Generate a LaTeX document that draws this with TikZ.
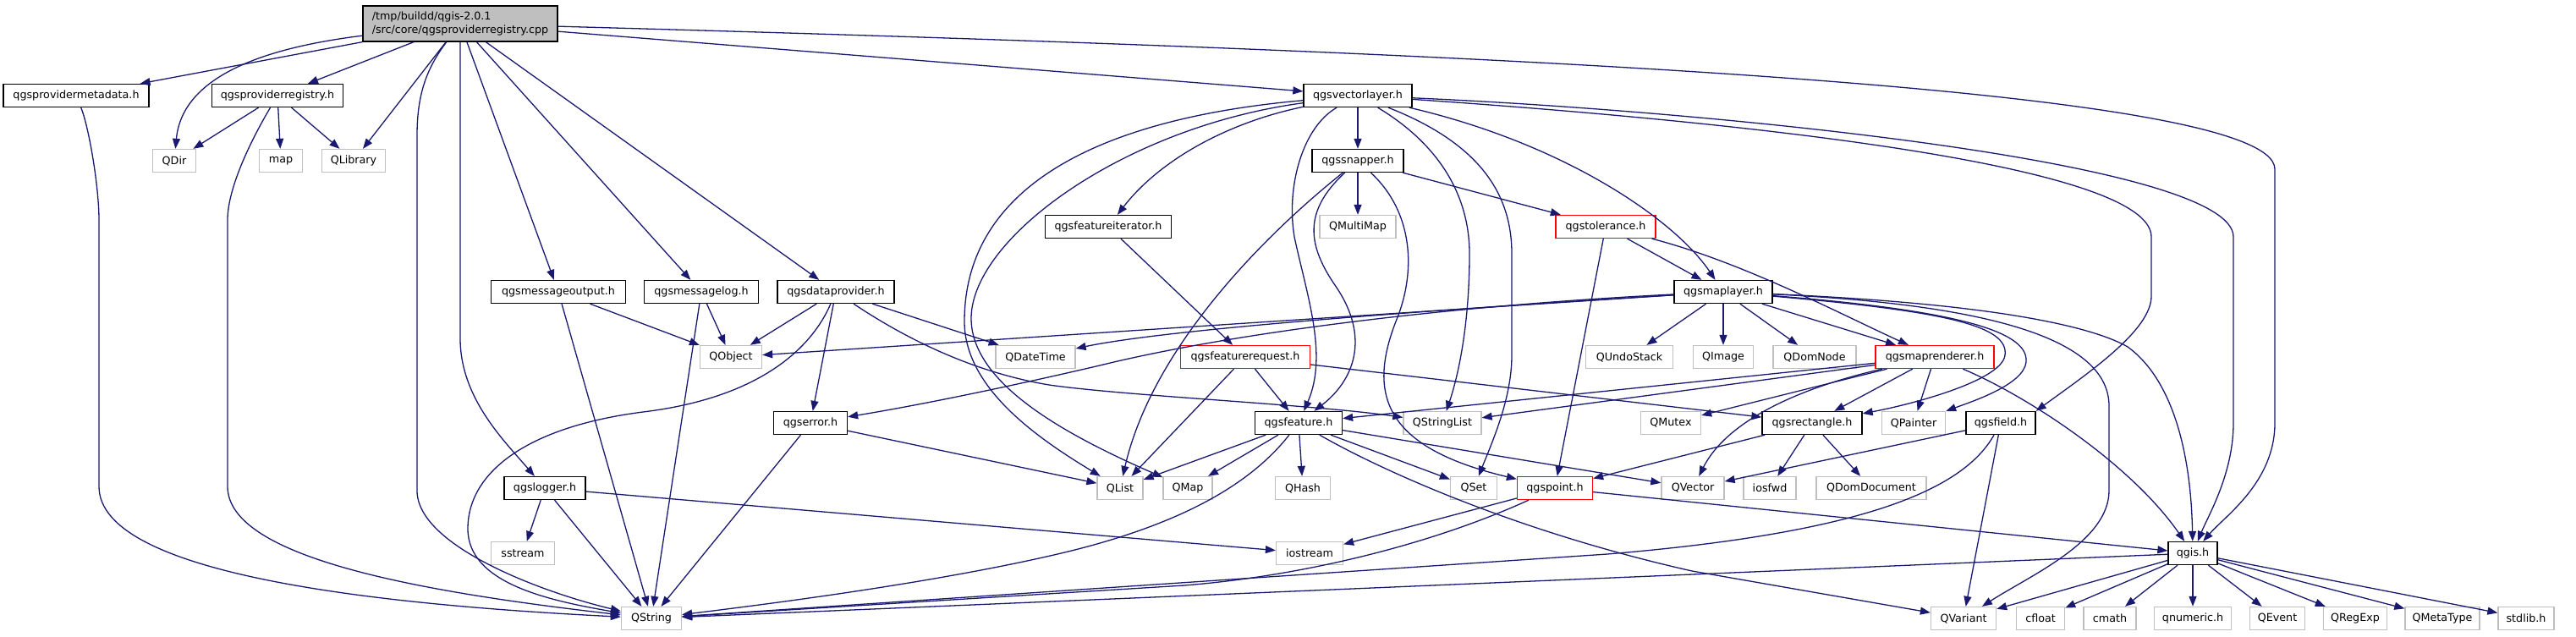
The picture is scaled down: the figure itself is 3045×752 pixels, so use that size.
\documentclass[tikz,border=0pt]{standalone}
\usepackage{fontspec}
\setmainfont{DejaVu Sans}
\usetikzlibrary{arrows.meta}
\definecolor{edgec}{HTML}{191970}
\definecolor{gborder}{HTML}{BFBFBF}
\definecolor{rootfill}{HTML}{BFBFBF}
\begin{document}
\begin{tikzpicture}[x=1pt,y=-1pt,
  every node/.style={font=\fontsize{12.7}{16}\selectfont, inner sep=0pt, minimum height=27pt, line width=1.3pt, fill=white},
  hb/.style={draw=black},
  gb/.style={draw=gborder},
  rb/.style={draw=red},
  e/.style={draw=edgec, line width=1.3pt, -{Triangle[length=12pt,width=9pt]}}]
\useasboundingbox (0,0) rectangle (3045,752);
% nodes
\node[hb, fill=rootfill, minimum width=230pt, minimum height=42pt, align=left] (root) at (544,28) {/tmp/buildd/qgis-2.0.1\\/src/core/qgsproviderregistry.cpp};
\node[hb, minimum width=172pt] (pmd) at (90,113) {qgsprovidermetadata.h};
\node[hb, minimum width=155pt] (preg) at (328,113) {qgsproviderregistry.h};
\node[hb, minimum width=128pt] (vl) at (1605,113) {qgsvectorlayer.h};
\node[gb, minimum width=51pt] (qdir) at (206,190) {QDir};
\node[gb, minimum width=51pt] (map) at (332,190) {map};
\node[gb, minimum width=75pt] (qlib) at (418,190) {QLibrary};
\node[hb, minimum width=108pt] (snap) at (1605,190) {qgssnapper.h};
\node[hb, minimum width=149pt] (fiter) at (1310,268) {qgsfeatureiterator.h};
\node[gb, minimum width=90pt] (qmm) at (1605,268) {QMultiMap};
\node[rb, minimum width=118pt] (tol) at (1898,268) {qgstolerance.h};
\node[hb, minimum width=159pt] (mout) at (660,345) {qgsmessageoutput.h};
\node[hb, minimum width=135pt] (mlog) at (829,345) {qgsmessagelog.h};
\node[hb, minimum width=138pt] (dprov) at (988,345) {qgsdataprovider.h};
\node[hb, minimum width=116pt] (ml) at (2037,345) {qgsmaplayer.h};
\node[gb, minimum width=73pt] (qobj) at (864,422) {QObject};
\node[gb, minimum width=94pt] (qdt) at (1224,422) {QDateTime};
\node[rb, minimum width=153pt] (freq) at (1472,422) {qgsfeaturerequest.h};
\node[gb, minimum width=103pt] (qundo) at (1926,422) {QUndoStack};
\node[gb, minimum width=71pt] (qimg) at (2037,422) {QImage};
\node[gb, minimum width=98pt] (qdomnode) at (2145,422) {QDomNode};
\node[rb, minimum width=140pt] (mr) at (2287,422) {qgsmaprenderer.h};
\node[hb, minimum width=87pt] (err) at (958,500) {qgserror.h};
\node[hb, minimum width=103pt] (feat) at (1535,500) {qgsfeature.h};
\node[gb, minimum width=92pt] (qsl) at (1705,500) {QStringList};
\node[gb, minimum width=71pt] (qmutex) at (1975,500) {QMutex};
\node[hb, minimum width=118pt] (rect) at (2142,500) {qgsrectangle.h};
\node[gb, minimum width=75pt] (qpainter) at (2262,500) {QPainter};
\node[hb, minimum width=82pt] (field) at (2365,500) {qgsfield.h};
\node[hb, minimum width=96pt] (logger) at (644,577) {qgslogger.h};
\node[gb, minimum width=54pt] (qlist) at (1324,577) {QList};
\node[gb, minimum width=58pt] (qmap) at (1404,577) {QMap};
\node[gb, minimum width=65pt] (qhash) at (1540,577) {QHash};
\node[gb, minimum width=55pt] (qset) at (1742,577) {QSet};
\node[rb, minimum width=89pt] (pt) at (1838,577) {qgspoint.h};
\node[gb, minimum width=74pt] (qvec) at (2001,577) {QVector};
\node[gb, minimum width=62pt] (iosfwd) at (2092,577) {iosfwd};
\node[gb, minimum width=130pt] (qdomdoc) at (2212,577) {QDomDocument};
\node[gb, minimum width=75pt] (sstream) at (618,654) {sstream};
\node[gb, minimum width=79pt] (iostream) at (1548,654) {iostream};
\node[hb, minimum width=58pt] (qgis) at (2592,654) {qgis.h};
\node[gb, minimum width=71pt] (qstring) at (770,731) {QString};
\node[gb, minimum width=77pt] (qvar) at (2321,731) {QVariant};
\node[gb, minimum width=57pt] (cfloat) at (2412,731) {cfloat};
\node[gb, minimum width=62pt] (cmath) at (2494,731) {cmath};
\node[gb, minimum width=91pt] (qnum) at (2592,731) {qnumeric.h};
\node[gb, minimum width=65pt] (qevent) at (2692,731) {QEvent};
\node[gb, minimum width=75pt] (qregexp) at (2784,731) {QRegExp};
\node[gb, minimum width=88pt] (qmeta) at (2887,731) {QMetaType};
\node[gb, minimum width=66pt] (stdlib) at (2986,731) {stdlib.h};
% root edges
\draw[e] (root) -- (pmd);
\draw[e] (root) .. controls (300,58) and (215,95) .. (qdir);
\draw[e] (root) -- (preg);
\draw[e] (root) -- (qlib);
\draw[e] (root) .. controls (505,80) and (493,110) .. (493,160) -- (493,580) .. controls (493,645) and (640,700) .. (qstring);
\draw[e] (root) -- (vl);
\draw[e] (root) .. controls (1700,60) and (2689,100) .. (2689,200) -- (2689,500) .. controls (2689,570) and (2630,610) .. (qgis);
\draw[e] (root) -- (mout);
\draw[e] (root) -- (mlog);
\draw[e] (root) -- (dprov);
\draw[e] (root) -- (544,400) .. controls (544,470) and (595,520) .. (logger);
% provider headers
\draw[e] (pmd) .. controls (105,150) and (117,220) .. (117,260) -- (117,575) .. controls (117,680) and (450,715) .. (qstring);
\draw[e] (preg) .. controls (300,160) and (269,220) .. (269,260) -- (269,575) .. controls (269,660) and (500,700) .. (qstring);
\draw[e] (preg) -- (qdir);
\draw[e] (preg) -- (map);
\draw[e] (preg) -- (qlib);
% message / data provider
\draw[e] (mout) -- (qobj);
\draw[e] (mout) -- (qstring);
\draw[e] (mlog) -- (qstring);
\draw[e] (mlog) -- (qobj);
\draw[e] (dprov) -- (qobj);
\draw[e] (dprov) -- (err);
\draw[e] (dprov) -- (qdt);
\draw[e] (dprov) .. controls (1070,400) and (1150,440) .. (1240,455) .. controls (1330,468) and (1550,478) .. (qsl);
\draw[e] (dprov) .. controls (960,410) and (900,470) .. (760,487) .. controls (620,505) and (553,560) .. (553,625) .. controls (553,690) and (650,710) .. (qstring);
\draw[e] (err) -- (qlist);
\draw[e] (err) -- (qstring);
% map layer
\draw[e] (ml) -- (qobj);
\draw[e] (ml) .. controls (1800,360) and (1400,385) .. (qdt);
\draw[e] (ml) .. controls (1700,362) and (1450,395) .. (1300,432) .. controls (1180,460) and (1080,480) .. (err);
\draw[e] (ml) -- (qundo);
\draw[e] (ml) -- (qimg);
\draw[e] (ml) -- (qdomnode);
\draw[e] (ml) -- (mr);
\draw[e] (ml) .. controls (2300,368) and (2375,385) .. (2370,420) .. controls (2366,450) and (2260,478) .. (rect);
\draw[e] (ml) .. controls (2330,368) and (2398,395) .. (2395,428) .. controls (2392,455) and (2330,475) .. (qpainter);
\draw[e] (ml) .. controls (2350,360) and (2493,400) .. (2493,480) -- (2493,580) .. controls (2493,640) and (2400,680) .. (qvar);
\draw[e] (ml) .. controls (2380,360) and (2480,390) .. (2515,410) .. controls (2570,450) and (2590,540) .. (qgis);
% vector layer
\draw[e] (vl) -- (snap);
\draw[e] (vl) .. controls (1450,145) and (1370,190) .. (fiter);
\draw[e] (vl) .. controls (1300,140) and (1140,220) .. (1140,380) .. controls (1140,460) and (1230,520) .. (qlist);
\draw[e] (vl) .. controls (1330,150) and (1150,280) .. (1148,375) .. controls (1147,450) and (1250,510) .. (qmap);
\draw[e] (vl) .. controls (1540,150) and (1520,220) .. (1530,280) .. controls (1545,350) and (1570,420) .. (feat);
\draw[e] (vl) .. controls (1700,170) and (1737,230) .. (1737,300) .. controls (1737,380) and (1725,440) .. (qsl);
\draw[e] (vl) .. controls (1750,170) and (1787,230) .. (1787,300) -- (1787,420) .. controls (1787,470) and (1765,520) .. (qset);
\draw[e] (vl) .. controls (1850,170) and (1980,260) .. (ml);
\draw[e] (vl) .. controls (2000,140) and (2543,190) .. (2543,280) -- (2543,350) .. controls (2543,390) and (2470,440) .. (field.north east);
\draw[e] (vl) .. controls (2000,130) and (2640,190) .. (2640,280) -- (2640,500) .. controls (2640,560) and (2610,610) .. (qgis);
% snapper
\draw[e] (snap) -- (qmm);
\draw[e] (snap) -- (tol);
\draw[e] (snap) .. controls (1480,290) and (1360,420) .. (qlist);
\draw[e] (snap) .. controls (1540,250) and (1545,290) .. (1580,340) .. controls (1620,400) and (1600,450) .. (feat);
\draw[e] (snap) .. controls (1670,250) and (1675,320) .. (1650,380) .. controls (1615,470) and (1640,530) .. (pt);
% tolerance
\draw[e] (tol) -- (ml);
\draw[e] (tol) .. controls (2060,310) and (2177,372) .. (mr);
\draw[e] (tol) -- (pt);
% feature iterator / request
\draw[e] (fiter) -- (freq);
\draw[e] (freq) -- (qlist);
\draw[e] (freq) -- (feat);
\draw[e] (freq) -- (rect);
% feature
\draw[e] (feat) -- (qlist);
\draw[e] (feat) -- (qmap);
\draw[e] (feat) -- (qhash);
\draw[e] (feat) -- (qset);
\draw[e] (feat) -- (qvec);
\draw[e] (feat) .. controls (1480,570) and (1400,620) .. (1250,655) .. controls (1100,690) and (900,715) .. (qstring);
\draw[e] (feat) .. controls (1640,560) and (1800,630) .. (2000,675) -- (qvar);
% point
\draw[e] (pt) -- (iostream);
\draw[e] (pt) .. controls (1700,640) and (1550,680) .. (1400,692) -- (qstring);
\draw[e] (pt) -- (qgis);
% rectangle
\draw[e] (rect) -- (pt);
\draw[e] (rect) -- (iosfwd);
\draw[e] (rect) -- (qdomdoc);
% map renderer
\draw[e] (mr) -- (feat);
\draw[e] (mr) -- (qsl);
\draw[e] (mr) -- (qmutex);
\draw[e] (mr) .. controls (2120,460) and (2040,500) .. (qvec);
\draw[e] (mr) -- (rect);
\draw[e] (mr) -- (qpainter);
\draw[e] (mr) .. controls (2400,470) and (2520,550) .. (qgis);
% field
\draw[e] (field) -- (qvec);
\draw[e] (field) .. controls (2320,580) and (2200,630) .. (1900,655) -- (qstring);
\draw[e] (field) -- (qvar);
% logger
\draw[e] (logger) -- (sstream);
\draw[e] (logger) -- (qstring);
\draw[e] (logger) -- (iostream);
% qgis.h
\draw[e] (qgis) -- (qstring);
\draw[e] (qgis) -- (qvar);
\draw[e] (qgis) -- (cfloat);
\draw[e] (qgis) -- (cmath);
\draw[e] (qgis) -- (qnum);
\draw[e] (qgis) -- (qevent);
\draw[e] (qgis) -- (qregexp);
\draw[e] (qgis) -- (qmeta);
\draw[e] (qgis) -- (stdlib);
\end{tikzpicture}
\end{document}
